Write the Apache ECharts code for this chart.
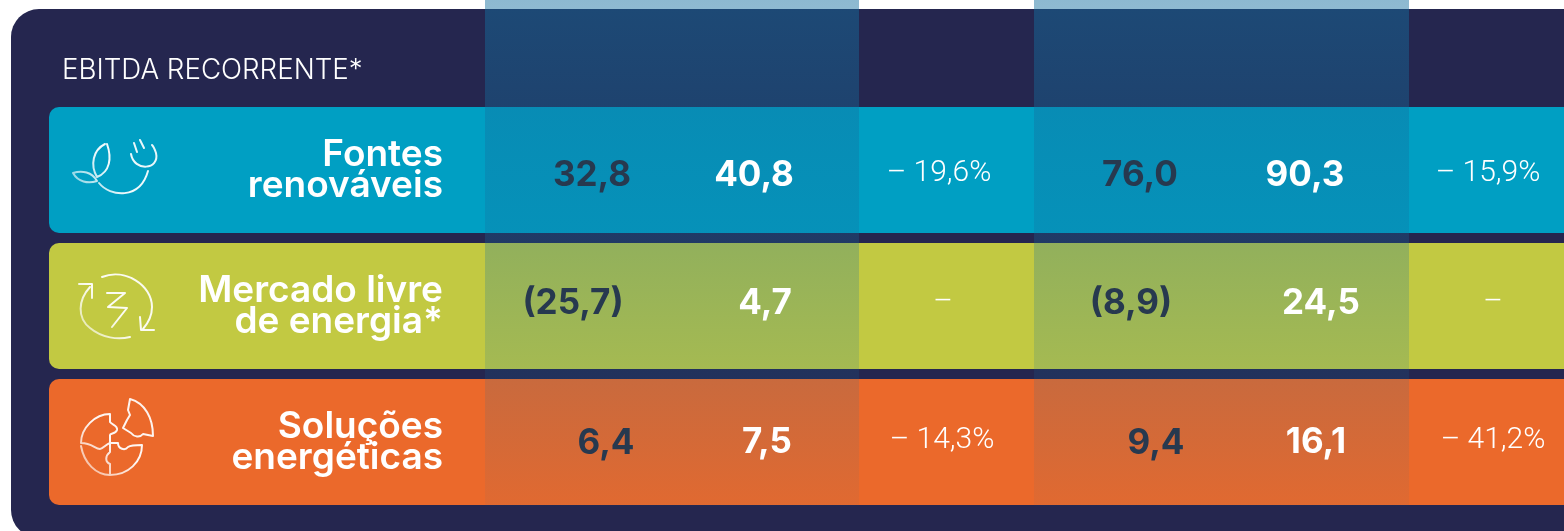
<!DOCTYPE html>
<html>
<head>
<meta charset="utf-8">
<style>
  html, body { margin: 0; padding: 0; background: #fff; }
  #main { width: 1564px; height: 531px; }
</style>
<script src="https://cdn.jsdelivr.net/npm/echarts@6/dist/echarts.min.js"></script>
</head>
<body>
<div id="main"></div>
<script>
// dados da tabela
const title = 'EBITDA RECORRENTE*'
const categories = ['Fontes\nrenováveis', 'Mercado livre\nde energia*', 'Soluções\nenergéticas']
const rowColors = ['#009FC3', '#C2C942', '#EB692B']
const quarterCurrent = [32.8, -25.7, 6.4]
const quarterPrevious = [40.8, 4.7, 7.5]
const quarterVariation = [-19.6, null, -14.3]
const halfCurrent = [76.0, -8.9, 9.4]
const halfPrevious = [90.3, 24.5, 16.1]
const halfVariation = [-15.9, null, -41.2]

// layout: centro de cada celula em px e ajuste vertical, por coluna e linha
const cellX = [
    [592, 573, 606],
    [754, 765, 767],
    [939, 943, 942],
    [1140, 1131, 1156],
    [1305, 1321, 1316],
    [1488, 1493, 1493],
]
const cellDy = [
    [5, -3, 1],
    [5, -3, 0],
    [3, -4, -2],
    [5, -3, 1],
    [5, -3, 0],
    [3, -4, -2],
]

const dark = '#27394F'
const valueFont = { fontFamily: 'Inter', fontSize: 35, fontWeight: 700 }
const variationFont = { fontFamily: 'Roboto', fontSize: 30, fontWeight: 300 }

function fmtValue(v) {
    const s = Math.abs(v).toFixed(1).replace('.', ',')
    return v < 0 ? '(' + s + ')' : s
}

function fmtVariation(v) {
    if (v === null) return '–'
    return '– ' + Math.abs(v).toFixed(1).replace('.', ',') + '%'
}

function column(values, col, color, font, fmt) {
    return {
        type: 'scatter',
        z: 5,
        symbolSize: 0,
        silent: true,
        itemStyle: { opacity: 1 },
        data: values.map((v, i) => [cellX[col][i], i]),
        label: {
            show: true,
            position: 'inside',
            color: color,
            opacity: 1,
            ...font,
            formatter: p => fmt(values[p.dataIndex]),
        },
        labelLayout: p => ({ dy: cellDy[col][p.dataIndex] }),
    }
}

function band(x, w) {
    return {
        type: 'rect',
        z: 3,
        shape: { x: x, y: 0, width: w, height: 531 },
        style: {
            fill: {
                type: 'linear', x: 0, y: 0, x2: 0, y2: 1,
                colorStops: [
                    { offset: 0, color: 'rgba(20,111,159,0.485)' },
                    { offset: 0.95, color: 'rgba(20,111,159,0.05)' },
                    { offset: 0.955, color: 'rgba(20,111,159,0)' },
                    { offset: 1, color: 'rgba(20,111,159,0)' },
                ],
            },
        },
    }
}

// icones desenhados como path em series custom
function icon(d) {
    const r = echarts.graphic.makePath(d).getBoundingRect()
    return {
        type: 'custom',
        coordinateSystem: 'none',
        z: 4,
        silent: true,
        data: [0],
        renderItem: () => ({
            type: 'path',
            shape: { pathData: d, layout: 'cover', x: r.x, y: r.y, width: r.width, height: r.height },
            style: {
                fill: null,
                stroke: {
                    type: 'linear', x: 0, y: 1, x2: 1, y2: 0,
                    colorStops: [
                        { offset: 0, color: 'rgba(255,255,255,0.45)' },
                        { offset: 0.45, color: 'rgba(255,255,255,0.95)' },
                        { offset: 1, color: 'rgba(255,255,255,0.9)' },
                    ],
                },
                lineWidth: 2,
                lineCap: 'round',
                lineJoin: 'round',
            },
        }),
    }
}

const iconPlant = 'M105 144C93 150 90 165 97 177C110 172 112 158 107 144'
    + 'M73 173C82 170 92 172 97 181C88 184 78 182 73 173'
    + 'M99 183C110 197 140 200 148 171'
    + 'M131 154C134 172 160 170 156 153C155 150 154 147 152 145'
    + 'M134 143L137 152M140 140L144 148'
const iconCycle = 'M102 277C125 268 152 285 152 307C152 314 149 322 143 329'
    + 'M90 287C78 300 77 318 90 328C102 338 118 340 130 337'
    + 'M79 284L92 284L92 298'
    + 'M140 317L141 330L154 330'
    + 'M107 293L125 293L108 307L127 308L112 327'
const iconPuzzle = 'M81 443C81 428 95 414 110 414L110 422C112 425 118 425 117 430C116 434 110 433 110 435L110 443'
    + 'C106 444 103 449 100 449C95 449 92 443 81 443'
    + 'M110 443L118 443C118 449 125 451 128 447C131 445 135 445 142 445C142 462 128 475 110 475'
    + 'C96 475 84 463 81 446'
    + 'M110 443L110 452C105 456 105 462 110 464L110 475'
    + 'M130 399C145 403 153 418 153 436L143 434C140 438 134 437 131 433L123 428L127 420L130 415L128 410L130 399'

const option = {
    animation: false,
    backgroundColor: '#fff',
    grid: { left: 454, right: 0, top: 102, bottom: 21 },
    xAxis: { type: 'value', min: 454, max: 1564, show: false },
    yAxis: {
        type: 'category',
        data: categories,
        inverse: true,
        z: 6,
        axisLine: { show: false },
        axisTick: { show: false },
        splitLine: { show: false },
        axisLabel: {
            color: '#fff',
            fontFamily: 'Inter',
            fontSize: 37,
            fontWeight: 600,
            lineHeight: 31,
            margin: 11,
            align: 'right',
            padding: [0, 0, 10, 0],
        },
    },
    graphic: {
        elements: [
            { type: 'rect', z: 1, shape: { x: 11, y: 9, width: 1600, height: 529, r: 28 }, style: { fill: '#25264F' } },
            ...rowColors.map((c, i) => ({
                type: 'rect',
                z: 2,
                shape: { x: 49, y: 107 + i * 136, width: 1560, height: 126, r: 10 },
                style: { fill: c },
            })),
            band(485, 374),
            band(1034, 375),
            { type: 'text', z: 4, x: 62, y: 57, style: { text: title, fill: '#fff', fontFamily: 'Inter', fontSize: 27.7, fontWeight: 300 } },
        ],
    },
    series: [
        icon(iconPlant),
        icon(iconCycle),
        icon(iconPuzzle),
        column(quarterCurrent, 0, dark, valueFont, fmtValue),
        column(quarterPrevious, 1, '#fff', valueFont, fmtValue),
        column(quarterVariation, 2, '#fff', variationFont, fmtVariation),
        column(halfCurrent, 3, dark, valueFont, fmtValue),
        column(halfPrevious, 4, '#fff', valueFont, fmtValue),
        column(halfVariation, 5, '#fff', variationFont, fmtVariation),
    ],
}

const chart = echarts.init(document.getElementById('main'))
chart.setOption(option)
</script>
</body>
</html>
